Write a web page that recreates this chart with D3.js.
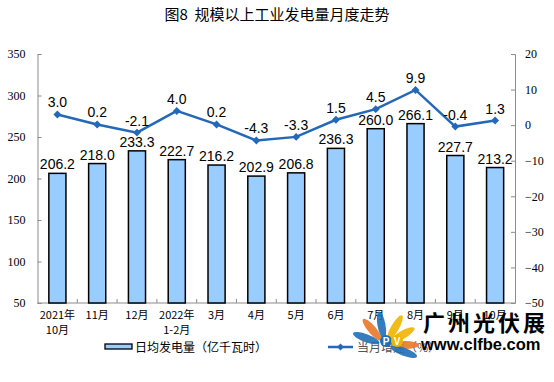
<!DOCTYPE html>
<html><head><meta charset="utf-8">
<script src="https://cdn.jsdelivr.net/npm/d3@7"></script>
<style>body{margin:0;background:#fff}svg{display:block}</style>
</head><body>
<script>
const categories = [["2021年","10月"],["11月"],["12月"],["2022年","1-2月"],["3月"],["4月"],["5月"],["6月"],["7月"],["8月"],["9月"],["10月"]];
const power = [206.2,218.0,233.3,222.7,216.2,202.9,206.8,236.3,260.0,266.1,227.7,213.2];
const growth = [3.0,0.2,-2.1,4.0,0.2,-4.3,-3.3,1.5,4.5,9.9,-0.4,1.3];
const leftTicks = [50,100,150,200,250,300,350];
const rightTicks = [-50,-40,-30,-20,-10,0,10,20];
const title = "图8\u00a0\u00a0规模以上工业发电量月度走势";
const legendLabels = ["日均发电量（亿千瓦时）","当月增速（%）"];

const W=554,H=382;
const svg=d3.select("body").append("svg").attr("width",W).attr("height",H);
const L=37.5,R=515,T=54,B=303;
const x=d3.scaleBand().domain(d3.range(categories.length)).range([L,R]).paddingInner(0.57).paddingOuter(0.285);
const y=d3.scaleLinear().domain([50,350]).range([B,T]);
const y2=d3.scaleLinear().domain([-50,20]).range([B,T]);
const axisCol="#8c8c8c";

svg.append("text").attr("x",W/2).attr("y",20).attr("text-anchor","middle")
  .attr("font-family","Noto Sans CJK SC").attr("font-size",15).attr("fill","#000").text(title);

// axes
const gl=svg.append("g").attr("transform",`translate(${L},0)`).call(d3.axisLeft(y).tickValues(leftTicks).tickSize(-4).tickPadding(12));
const gr=svg.append("g").attr("transform",`translate(${R},0)`).call(d3.axisRight(y2).tickValues(rightTicks).tickSize(-4).tickPadding(10));
[gl,gr].forEach(g=>{
  g.select(".domain").attr("stroke",axisCol);
  g.selectAll(".tick line").attr("stroke",axisCol);
  g.selectAll(".tick text").attr("font-family","Liberation Serif").attr("font-size",12).attr("fill","#000");
});
gl.selectAll(".tick text").attr("x",-12);
// bottom axis
svg.append("line").attr("x1",L).attr("x2",R).attr("y1",B).attr("y2",B).attr("stroke",axisCol);
svg.append("g").selectAll("line").data(d3.range(1,categories.length)).join("line")
  .attr("x1",i=>L+(R-L)/categories.length*i).attr("x2",i=>L+(R-L)/categories.length*i)
  .attr("y1",B).attr("y2",B-4).attr("stroke",axisCol);

// bars
svg.append("g").selectAll("rect").data(power).join("rect")
  .attr("x",(d,i)=>x(i)).attr("width",x.bandwidth())
  .attr("y",d=>y(d)).attr("height",d=>B-y(d))
  .attr("fill","#99ccff").attr("stroke","#000").attr("stroke-width",1.5);
svg.append("g").selectAll("text").data(power).join("text")
  .attr("x",(d,i)=>x(i)+x.bandwidth()/2).attr("y",d=>y(d)-4)
  .attr("text-anchor","middle").attr("font-family","Liberation Sans").attr("font-size",14).attr("fill","#000")
  .text(d=>d.toFixed(1));

// line
const cx=i=>x(i)+x.bandwidth()/2;
const lineCol="#2468b8";
svg.append("path").datum(growth).attr("fill","none").attr("stroke",lineCol).attr("stroke-width",2.5)
  .attr("d",d3.line().x((d,i)=>cx(i)).y(d=>y2(d)));
svg.append("g").selectAll("path").data(growth).join("path")
  .attr("d",d3.symbol(d3.symbolDiamond2,40)).attr("transform",(d,i)=>`translate(${cx(i)},${y2(d)})`).attr("fill",lineCol);
svg.append("g").selectAll("text").data(growth).join("text")
  .attr("x",(d,i)=>cx(i)).attr("y",d=>y2(d)-7)
  .attr("text-anchor","middle").attr("font-family","Liberation Sans").attr("font-size",14).attr("fill","#000")
  .text(d=>d.toFixed(1));

// x labels
const xl=svg.append("g").selectAll("text").data(categories).join("text")
  .attr("x",(d,i)=>cx(i)).attr("y",319).attr("text-anchor","middle")
  .attr("font-family","Noto Sans CJK SC").attr("font-size",11).attr("fill","#000");
xl.selectAll("tspan").data(d=>d).join("tspan").attr("x",function(){return this.parentNode.getAttribute("x");})
  .attr("dy",(d,j)=>j?15:0).text(d=>d);

// legend
svg.append("rect").attr("x",105).attr("y",344).attr("width",27).attr("height",5).attr("fill","#99ccff").attr("stroke","#000").attr("stroke-width",1.3);
svg.append("text").attr("x",135).attr("y",351.5).attr("font-family","Noto Sans CJK SC").attr("font-size",12).attr("fill","#000").text(legendLabels[0]);
svg.append("line").attr("x1",328).attr("x2",353).attr("y1",347).attr("y2",347).attr("stroke",lineCol).attr("stroke-width",2.5);
svg.append("path").attr("d",d3.symbol(d3.symbolDiamond2,30)).attr("transform","translate(340.5,347)").attr("fill",lineCol);
svg.append("text").attr("x",357).attr("y",351.5).attr("font-family","Noto Sans CJK SC").attr("font-size",12).attr("fill","#555").text(legendLabels[1]);

// watermark
const wm=svg.append("g");
const petals=[[-60,"#f0b400"],[-30,"#f0b400"],[-100,"#1f6fb5"],[-130,"#e8782a"],[-160,"#1f6fb5"],[0,"#e8782a"],[20,"#1f6fb5"]];
petals.forEach(([a,c])=>{
  wm.append("ellipse").attr("cx",0).attr("cy",-20).attr("rx",4).attr("ry",14).attr("fill",c).attr("opacity",0.9)
    .attr("transform",`translate(385,345) rotate(${a+90})`);
});
wm.append("circle").attr("cx",386).attr("cy",341).attr("r",6).attr("fill","#1f6fb5");
wm.append("circle").attr("cx",397).attr("cy",341).attr("r",6).attr("fill","#f0b400");
wm.append("text").attr("x",386).attr("y",345).attr("text-anchor","middle").attr("font-family","Liberation Sans").attr("font-weight","bold").attr("font-size",10).attr("fill","#fff").text("P");
wm.append("text").attr("x",397).attr("y",345).attr("text-anchor","middle").attr("font-family","Liberation Sans").attr("font-weight","bold").attr("font-size",10).attr("fill","#fff").text("V");
wm.append("text").attr("x",423).attr("y",331).attr("font-family","Noto Sans CJK SC").attr("font-weight","bold").attr("font-size",22).attr("letter-spacing",3).attr("fill","#000").text("广州光伏展");
wm.append("text").attr("x",421).attr("y",350).attr("font-family","Liberation Sans").attr("font-weight","bold").attr("font-size",16.5).attr("fill","#000").text("www.clfbe.com");
</script>
</body></html>
